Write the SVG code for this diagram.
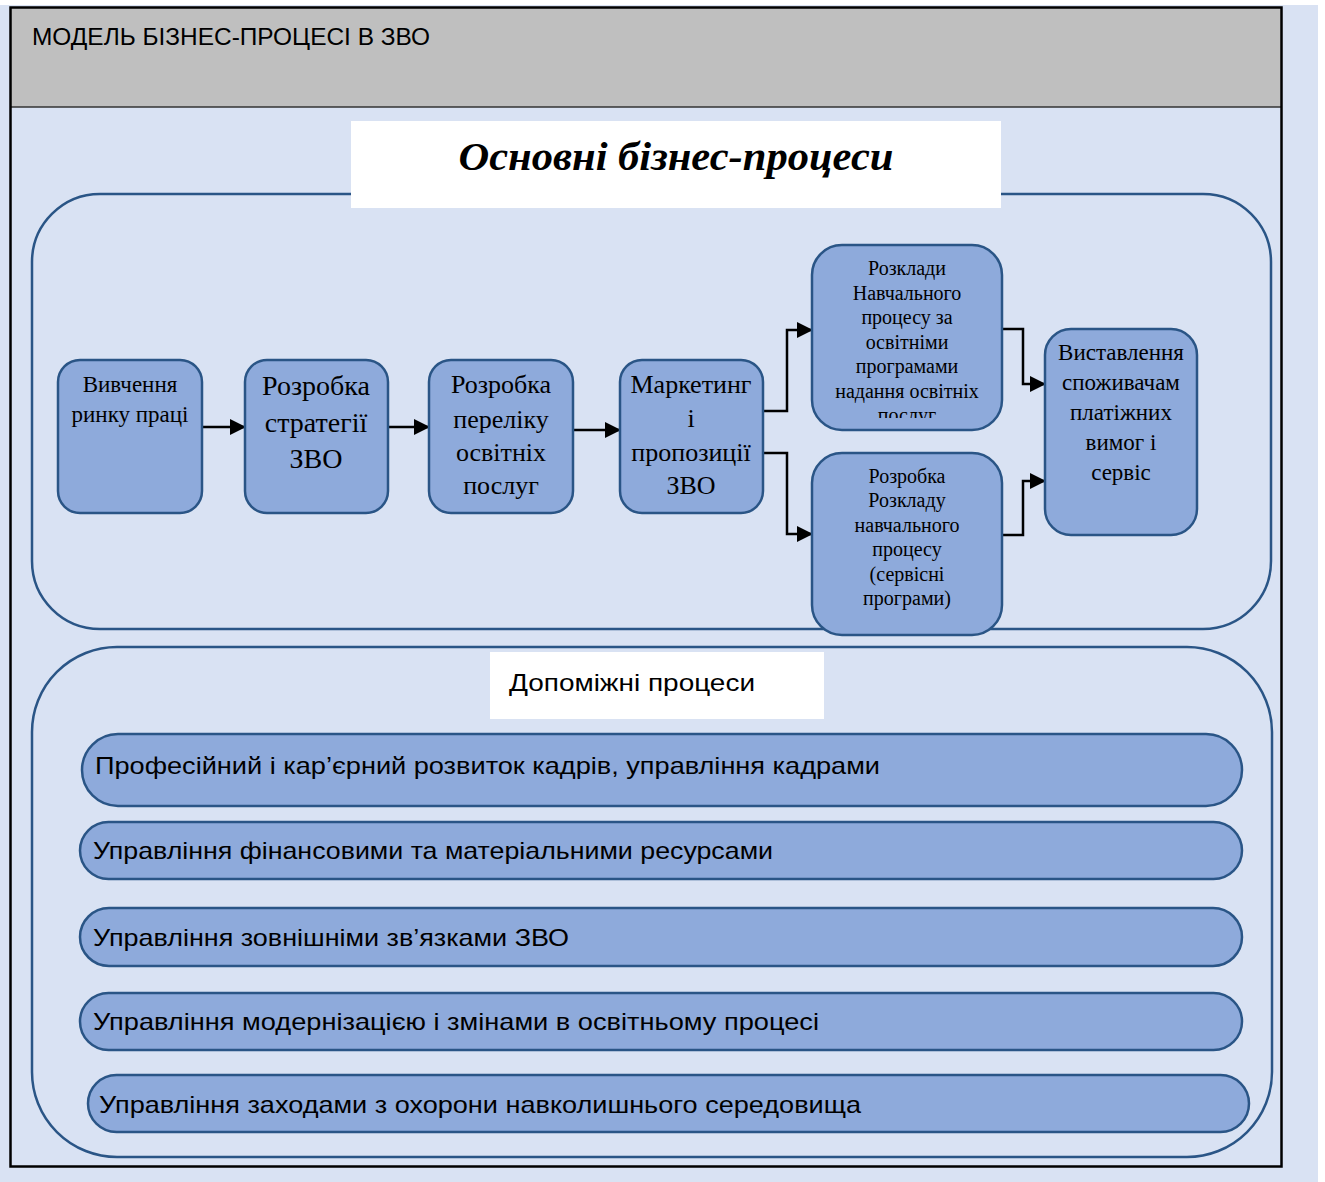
<svg xmlns="http://www.w3.org/2000/svg" width="1325" height="1182" viewBox="0 0 1325 1182">
<defs>
<style>
.bg{fill:#D9E2F3}
.node{fill:#8EAADB;stroke:#2A5586;stroke-width:2.5}
.big{fill:none;stroke:#2A5586;stroke-width:2.5}
.conn{fill:none;stroke:#000;stroke-width:2.5}
.serif{font-family:"Liberation Serif","Times New Roman",serif;fill:#000;text-anchor:middle}
.sans{font-family:"Liberation Sans",Arial,sans-serif;fill:#000}
</style>
<marker id="arr" markerUnits="userSpaceOnUse" markerWidth="16" markerHeight="16" refX="15" refY="8" orient="auto">
<path d="M0,0 L16,8 L0,16 z" fill="#000"/>
</marker>
<clipPath id="clip5"><rect x="812" y="245" width="190" height="173"/></clipPath>
</defs>
<rect x="0" y="0" width="1325" height="1182" fill="#FFFFFF"/>
<rect class="bg" x="0" y="5" width="1318" height="1177"/>
<g id="frame">
<rect x="10" y="7" width="1272" height="100" fill="#BFBFBF"/>
<line x1="10" y1="107" x2="1282" y2="107" stroke="#333" stroke-width="1.5"/>
<rect x="10.5" y="7.5" width="1271" height="1159" fill="none" stroke="#000" stroke-width="2.5"/>
<text class="sans" x="32" y="45" font-size="24" textLength="398" lengthAdjust="spacingAndGlyphs">МОДЕЛЬ БІЗНЕС-ПРОЦЕСІ В ЗВО</text>
</g>
<g id="main-group">
<rect class="big" x="32" y="194" width="1239" height="435" rx="68" ry="68"/>
<rect x="351" y="121" width="650" height="87" fill="#FFFFFF"/>
<text class="serif" x="676" y="170" font-size="40" font-weight="bold" font-style="italic" textLength="435" lengthAdjust="spacingAndGlyphs">Основні бізнес-процеси</text>
</g>
<g id="aux-group">
<rect class="big" x="32" y="647" width="1240" height="510" rx="85" ry="85"/>
<rect x="490" y="652" width="334" height="67" fill="#FFFFFF"/>
<text class="sans" x="509" y="691" font-size="23" textLength="246" lengthAdjust="spacingAndGlyphs">Допоміжні процеси</text>
</g>
<g id="connectors">
<line class="conn" x1="202" y1="427" x2="245" y2="427" marker-end="url(#arr)"/>
<line class="conn" x1="388" y1="427" x2="429" y2="427" marker-end="url(#arr)"/>
<line class="conn" x1="573" y1="430" x2="620" y2="430" marker-end="url(#arr)"/>
<polyline class="conn" points="763,411 787,411 787,330 812,330" marker-end="url(#arr)"/>
<polyline class="conn" points="763,453 787,453 787,534 812,534" marker-end="url(#arr)"/>
<polyline class="conn" points="1002,329 1023,329 1023,384 1045,384" marker-end="url(#arr)"/>
<polyline class="conn" points="1002,535 1023,535 1023,481 1045,481" marker-end="url(#arr)"/>
</g>
<g id="n1">
<rect class="node" x="58" y="360" width="144" height="153" rx="22"/>
<text class="serif" x="130" font-size="23"><tspan x="130" y="392">Вивчення</tspan><tspan x="130" y="422">ринку праці</tspan></text>
</g>
<g id="n2">
<rect class="node" x="245" y="360" width="143" height="153" rx="22"/>
<text class="serif" x="316" font-size="28"><tspan x="316" y="395">Розробка</tspan><tspan x="316" y="432">стратегії</tspan><tspan x="316" y="468">ЗВО</tspan></text>
</g>
<g id="n3">
<rect class="node" x="429" y="360" width="144" height="153" rx="22"/>
<text class="serif" x="501" font-size="26"><tspan x="501" y="393">Розробка</tspan><tspan x="501" y="428">переліку</tspan><tspan x="501" y="461">освітніх</tspan><tspan x="501" y="494">послуг</tspan></text>
</g>
<g id="n4">
<rect class="node" x="620" y="360" width="143" height="153" rx="22"/>
<text class="serif" x="691" font-size="26"><tspan x="691" y="393">Маркетинг</tspan><tspan x="691" y="427">і</tspan><tspan x="691" y="461">пропозиції</tspan><tspan x="691" y="494">ЗВО</tspan></text>
</g>
<g id="n5">
<rect class="node" x="812" y="245" width="190" height="185" rx="30"/>
<text class="serif" x="907" font-size="20" clip-path="url(#clip5)"><tspan x="907" y="275">Розклади</tspan><tspan x="907" y="300">Навчального</tspan><tspan x="907" y="324">процесу за</tspan><tspan x="907" y="349">освітніми</tspan><tspan x="907" y="373">програмами</tspan><tspan x="907" y="398">надання освітніх</tspan><tspan x="907" y="422">послуг</tspan></text>
</g>
<g id="n6">
<rect class="node" x="812" y="453" width="190" height="182" rx="30"/>
<text class="serif" x="907" font-size="20"><tspan x="907" y="483">Розробка</tspan><tspan x="907" y="507">Розкладу</tspan><tspan x="907" y="532">навчального</tspan><tspan x="907" y="556">процесу</tspan><tspan x="907" y="581">(сервісні</tspan><tspan x="907" y="605">програми)</tspan></text>
</g>
<g id="n7">
<rect class="node" x="1045" y="329" width="152" height="206" rx="26"/>
<text class="serif" x="1121" font-size="23"><tspan x="1121" y="360">Виставлення</tspan><tspan x="1121" y="390">споживачам</tspan><tspan x="1121" y="420">платіжних</tspan><tspan x="1121" y="450">вимог і</tspan><tspan x="1121" y="480">сервіс</tspan></text>
</g>
<g id="a1">
<rect class="node" x="82" y="734" width="1160" height="72" rx="36"/>
<text class="sans" x="95" y="774" font-size="24" textLength="785" lengthAdjust="spacingAndGlyphs">Професійний і кар’єрний розвиток кадрів, управління кадрами</text>
</g>
<g id="a2">
<rect class="node" x="80" y="822" width="1162" height="57" rx="28.5"/>
<text class="sans" x="93" y="859" font-size="24" textLength="680" lengthAdjust="spacingAndGlyphs">Управління фінансовими та матеріальними ресурсами</text>
</g>
<g id="a3">
<rect class="node" x="80" y="908" width="1162" height="58" rx="29"/>
<text class="sans" x="93" y="946" font-size="24" textLength="476" lengthAdjust="spacingAndGlyphs">Управління зовнішніми зв’язками ЗВО</text>
</g>
<g id="a4">
<rect class="node" x="80" y="993" width="1162" height="57" rx="28.5"/>
<text class="sans" x="93" y="1030" font-size="24" textLength="726" lengthAdjust="spacingAndGlyphs">Управління модернізацією і змінами в освітньому процесі</text>
</g>
<g id="a5">
<rect class="node" x="88" y="1075" width="1161" height="57" rx="28.5"/>
<text class="sans" x="99" y="1113" font-size="24" textLength="762" lengthAdjust="spacingAndGlyphs">Управління заходами з охорони навколишнього середовища</text>
</g>
</svg>
